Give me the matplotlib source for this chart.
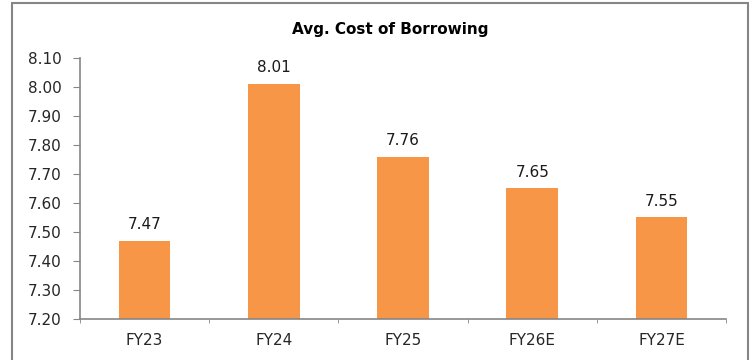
import matplotlib.pyplot as plt
from matplotlib.patches import Rectangle

categories = ['FY23', 'FY24', 'FY25', 'FY26E', 'FY27E']
values = [7.47, 8.01, 7.76, 7.65, 7.55]
yticks = [7.20, 7.30, 7.40, 7.50, 7.60, 7.70, 7.80, 7.90, 8.00, 8.10]

plt.rcParams['font.family'] = ['DejaVu Sans']

fig = plt.figure(figsize=(7.54, 3.60), dpi=100)
ax = fig.add_axes([0.106, 0.114, 0.857, 0.725])

# outer chart frame
fig.patches.append(Rectangle((12 / 754, -0.05), 736 / 754, 1.05 - 3 / 360,
                             transform=fig.transFigure, fill=False,
                             edgecolor='#868686', linewidth=1.5))

x = range(len(categories))
ax.bar(x, [v - 7.20 for v in values], bottom=7.20, width=0.4, color='#F79646')
for i, v in enumerate(values):
    ax.text(i, v + 0.03, '%.2f' % v, ha='center', va='bottom', fontsize=11, color='#1a1a1a')

ax.set_xlim(-0.5, len(categories) - 0.5)
ax.set_ylim(7.20, 8.10)
ax.set_yticks(yticks)
ax.set_yticklabels(['%.2f' % t for t in yticks], fontsize=11, color='#262626')
ax.set_xticks(list(x))
ax.set_xticklabels(categories, fontsize=11, color='#262626')
ax.tick_params(axis='x', length=0, pad=10)
ax.tick_params(axis='y', length=5, color='#868686', pad=8)
ax.set_xticks([i + 0.5 for i in range(-1, len(categories))], minor=True)
ax.tick_params(axis='x', which='minor', length=3, color='#868686')

for s in ['top', 'right']:
    ax.spines[s].set_visible(False)
for s in ['left', 'bottom']:
    ax.spines[s].set_color('#868686')
    ax.spines[s].set_linewidth(1.2)

fig.text(0.517, 0.919, 'Avg. Cost of Borrowing', ha='center', va='center',
         fontsize=11, fontweight='bold')

fig.savefig('out.png', dpi=100)
